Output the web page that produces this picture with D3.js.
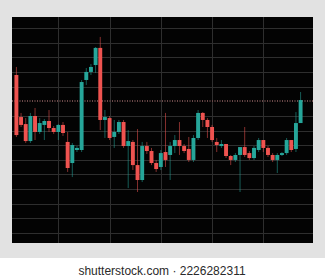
<!DOCTYPE html>
<html>
<head>
<meta charset="utf-8">
<script src="https://cdn.jsdelivr.net/npm/d3@7"></script>
<style>
  html, body { margin: 0; padding: 0; background: #fff; }
  svg { display: block; }
</style>
</head>
<body>
<div id="chart"></div>
<script>
// candle data, one entry per bar (open, high, low, close)
const opens  = [107.9, 79.2, 74.4, 62.8, 79.9, 69.0, 73.8, 76.5, 71.7, 69.0, 73.8, 62.2, 47.8, 56.7, 56.7, 104.5,
                110.0, 114.7, 126.4, 77.2, 78.5, 65.6, 69.0, 75.8, 59.4, 62.2, 46.4, 36.2, 59.4, 56.0, 47.8, 45.1,
                55.3, 53.3, 59.4, 63.5, 59.4, 57.4, 49.9, 64.9, 82.0, 77.2, 72.4, 62.2, 59.4, 60.8, 52.6, 49.9,
                53.3, 58.7, 54.6, 51.2, 56.7, 63.5, 58.1, 53.3, 49.9, 53.3, 54.6, 63.5, 57.4, 75.1]
const highs  = [113.4, 82.0, 78.5, 82.0, 85.4, 78.5, 77.9, 84.0, 73.1, 74.4, 75.8, 69.0, 61.5, 59.4, 104.5, 112.7,
                115.4, 127.0, 133.9, 84.0, 79.9, 77.2, 77.2, 77.2, 70.3, 63.5, 71.0, 62.2, 62.2, 58.1, 49.9, 56.7,
                82.0, 62.2, 66.9, 75.8, 60.8, 65.6, 66.9, 84.0, 82.6, 78.5, 73.8, 64.9, 63.5, 60.8, 53.3, 54.6,
                58.7, 72.4, 56.0, 59.4, 64.9, 63.5, 59.4, 54.6, 54.6, 55.3, 64.9, 63.5, 82.6, 96.3]
const lows   = [65.6, 72.4, 61.5, 61.5, 63.5, 67.6, 63.5, 69.0, 67.6, 63.5, 66.3, 41.7, 38.2, 55.3, 55.3, 101.1,
                107.9, 109.3, 70.3, 64.9, 63.5, 58.1, 67.6, 58.1, 30.7, 43.0, 28.0, 34.8, 54.0, 46.4, 41.7, 43.0,
                45.1, 36.2, 54.6, 53.3, 54.6, 48.5, 48.5, 63.5, 72.4, 64.9, 62.2, 55.3, 58.1, 51.2, 46.4, 48.5,
                28.0, 51.9, 49.9, 49.9, 55.3, 55.3, 51.9, 48.5, 41.0, 52.6, 53.3, 55.3, 55.3, 75.1]
const closes = [66.9, 73.8, 62.8, 79.9, 69.0, 75.1, 76.5, 71.7, 69.0, 73.8, 68.3, 44.4, 60.1, 58.1, 103.1, 110.0,
                113.4, 126.4, 77.2, 79.2, 64.9, 69.0, 75.8, 59.4, 62.8, 46.4, 36.2, 59.4, 56.0, 47.8, 43.7, 54.6,
                49.9, 59.4, 63.5, 59.4, 56.0, 49.9, 64.9, 82.0, 77.2, 72.4, 63.5, 60.1, 60.8, 52.6, 49.9, 53.3,
                58.7, 53.3, 51.2, 58.1, 63.5, 58.1, 53.3, 49.9, 53.3, 54.6, 63.5, 56.7, 75.1, 90.8]

const priceTicks = [0, 10, 20, 30, 40, 50, 60, 70, 80, 90, 100, 110, 120, 130, 140]
const timeTicks = [9, 20, 31, 42, 53]   // bars where the vertical grid lines sit
const markedPrice = 90                   // dotted level line
const caption = "shutterstock.com · 2226282311"

const W = 325, H = 280
const plot = {left: 12, top: 17, right: 313, bottom: 243}

const candles = opens.map((o, i) => ({i: i, open: o, high: highs[i], low: lows[i], close: closes[i]}))

const svg = d3.select("#chart").append("svg")
  .attr("width", W).attr("height", H)

// outer frame
svg.append("rect").attr("x", 0).attr("y", 0).attr("width", W).attr("height", 258).attr("fill", "#e2e2e2")
svg.append("rect").attr("x", plot.left).attr("y", plot.top)
  .attr("width", plot.right - plot.left).attr("height", plot.bottom - plot.top)
  .attr("fill", "#030303")

const x = d3.scaleBand()
  .domain(candles.map(d => d.i))
  .range([13.7, 303.3])
  .padding(0.16)

const y = d3.scaleLinear()
  .domain([-6.8, 147.5])
  .range([plot.bottom, plot.top])

const cx = i => x(i) + x.bandwidth() / 2

// grid
const grid = svg.append("g")
grid.selectAll(".hg").data(priceTicks.filter(v => v !== markedPrice)).join("line")
  .attr("x1", plot.left).attr("x2", plot.right)
  .attr("y1", d => Math.round(y(d)) + 0.5).attr("y2", d => Math.round(y(d)) + 0.5)
  .attr("stroke", "#2e2e2e").attr("stroke-width", 1)
grid.selectAll(".vg").data(timeTicks).join("line")
  .attr("x1", d => Math.round(cx(d)) + 0.5).attr("x2", d => Math.round(cx(d)) + 0.5)
  .attr("y1", plot.top).attr("y2", plot.bottom)
  .attr("stroke", "#2e2e2e").attr("stroke-width", 1)

// dotted level
svg.append("line")
  .attr("x1", plot.left).attr("x2", plot.right)
  .attr("y1", Math.round(y(markedPrice))).attr("y2", Math.round(y(markedPrice)))
  .attr("stroke", "#6a4848").attr("stroke-width", 2)
  .attr("stroke-dasharray", "1,1.5")

const up = "#26a69a", down = "#ef5350"
const col = d => d.close >= d.open ? up : down

const g = svg.append("g")
g.selectAll(".wick").data(candles).join("line")
  .attr("x1", d => cx(d.i)).attr("x2", d => cx(d.i))
  .attr("y1", d => y(d.high)).attr("y2", d => y(d.low))
  .attr("stroke", col).attr("stroke-width", 1).attr("stroke-opacity", 0.55)

g.selectAll(".body").data(candles).join("rect")
  .attr("x", d => x(d.i))
  .attr("width", x.bandwidth())
  .attr("y", d => y(Math.max(d.open, d.close)))
  .attr("height", d => Math.max(1.5, Math.abs(y(d.open) - y(d.close))))
  .attr("fill", col)

svg.append("text")
  .attr("x", 162).attr("y", 275)
  .attr("text-anchor", "middle")
  .attr("font-family", "'Liberation Sans', Arial, sans-serif")
  .attr("font-size", 12)
  .attr("fill", "#2a2a2a")
  .text(caption)
</script>
</body>
</html>
